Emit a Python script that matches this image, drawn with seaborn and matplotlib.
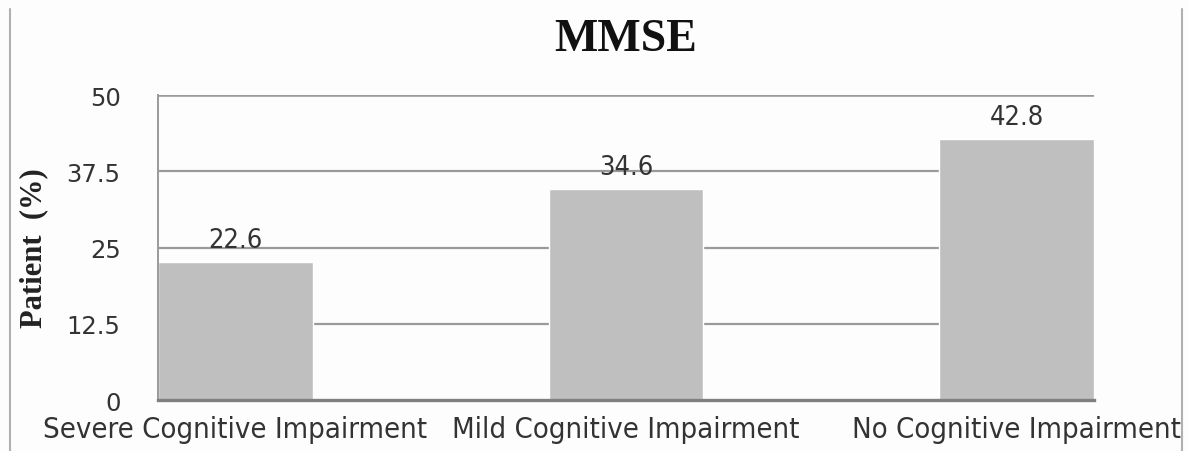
import matplotlib
matplotlib.use("Agg")
import matplotlib.pyplot as plt
from matplotlib.lines import Line2D
import seaborn as sns
import pandas as pd

categories = ["Severe Cognitive Impairment", "Mild Cognitive Impairment", "No Cognitive Impairment"]
values = [22.6, 34.6, 42.8]
yticks = [0, 12.5, 25, 37.5, 50]
ytick_labels = ["0", "12.5", "25", "37.5", "50"]

sns.set_theme(style="white")
plt.rcParams["font.family"] = ["DejaVu Sans"]

df = pd.DataFrame({"category": categories, "value": values})

fig = plt.figure(figsize=(11.89, 4.52), dpi=100, facecolor="#fdfdfd")
ax = fig.add_axes([0.1329, 0.1128, 0.7872, 0.6748])
ax.set_facecolor("#fdfdfd")

sns.barplot(data=df, x="category", y="value", color="#bfbfbf", width=0.396,
            saturation=1, ax=ax, zorder=2)

ax.set_xlim(-0.198, 2.198)
ax.set_ylim(0, 50)
ax.set_yticks(yticks)
ax.set_yticklabels(ytick_labels)
for y in yticks[1:]:
    ax.axhline(y, color="#9a9a9a", lw=1.6 if y < 50 else 2.6, zorder=1)

for i, v in enumerate(values):
    ax.text(i, v + 3.6, f"{v:g}", ha="center", va="center",
            fontsize=19.5, color="#333333", fontstretch="condensed", zorder=3)

for s in ["top", "right"]:
    ax.spines[s].set_visible(False)
ax.spines["left"].set_color("#9a9a9a")
ax.spines["left"].set_linewidth(1.4)
ax.spines["bottom"].set_color("#808080")
ax.spines["bottom"].set_linewidth(2.4)

ax.tick_params(axis="y", length=0, pad=27, labelsize=17.5, labelcolor="#333333")
ax.tick_params(axis="x", length=0, pad=11, labelsize=21, labelcolor="#333333")
for lbl in ax.get_xticklabels():
    lbl.set_fontstretch("condensed")

ax.set_xlabel("")
ax.set_ylabel("Patient  (%)", fontsize=22, fontweight="bold",
              family="Liberation Serif", color="#222222", labelpad=13)

fig.text(0.526, 0.912, "MMSE", ha="center", va="center", fontsize=33,
         fontweight="bold", family="Liberation Serif", color="#111111")

# thin frame edges at the sides of the figure
fig.add_artist(Line2D([0.0085, 0.0085], [0.0, 0.978], color="#b0b0b0", lw=1.5))
fig.add_artist(Line2D([0.994, 0.994], [0.0, 0.978], color="#b0b0b0", lw=1.5))

fig.savefig("out.png", dpi=100, facecolor=fig.get_facecolor())
